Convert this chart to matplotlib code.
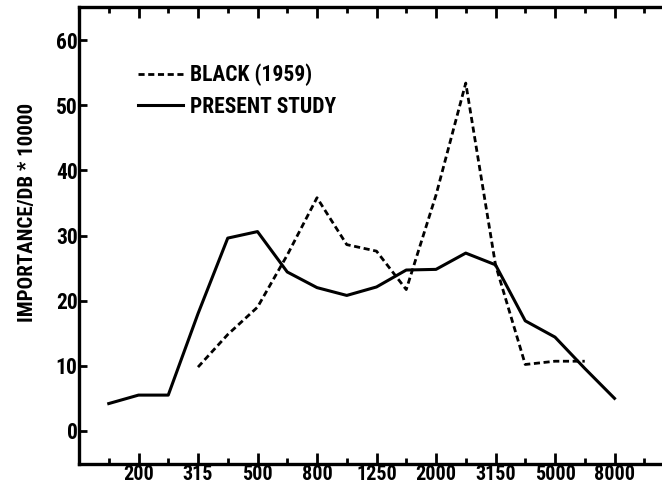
import numpy as np
import matplotlib
matplotlib.use("Agg")
import matplotlib.pyplot as plt
from matplotlib.ticker import FixedLocator, NullFormatter

plt.rcParams['font.family'] = ['Roboto Condensed', 'Liberation Sans Narrow', 'Liberation Sans', 'DejaVu Sans']
plt.rcParams['font.weight'] = 'bold'

# one-third octave band centre frequencies (Hz)
bands = ["125", "160", "200", "250", "315", "400", "500", "630", "800", "1000",
         "1250", "1600", "2000", "2500", "3150", "4000", "5000", "6300", "8000",
         "10000", "12500"]
labelled = ["200", "315", "500", "800", "1250", "2000", "3150", "5000", "8000"]

black_1959 = [np.nan, np.nan, np.nan, np.nan, 9.8, 14.8, 19.0, 27.0, 35.8, 28.6,
              27.6, 21.7, 36.2, 53.4, 25.5, 10.2, 10.7, 10.7, np.nan, np.nan, np.nan]
present_study = [np.nan, 4.2, 5.5, 5.5, 18.0, 29.6, 30.6, 24.4, 22.0, 20.8,
                 22.1, 24.7, 24.8, 27.3, 25.5, 16.9, 14.4, 9.6, 5.0, np.nan, np.nan]

x = np.arange(len(bands))

W, H = 662, 488
fig = plt.figure(figsize=(W / 100, H / 100), dpi=100)
ax = fig.add_axes([79 / W, 24.5 / H, (674 - 79) / W, 456 / H])

ax.plot(x, black_1959, color='black', lw=2.0, ls=(0, (2.2, 1.3)), label='BLACK (1959)')
ax.plot(x, present_study, color='black', lw=2.2, ls='-', label='PRESENT STUDY')

ax.set_xlim(0, 20)
ax.set_ylim(-5, 65)

major_idx = [bands.index(b) for b in labelled]
minor_idx = [i for i in range(1, 20) if i not in major_idx]
ax.xaxis.set_major_locator(FixedLocator(major_idx))
ax.set_xticklabels(labelled)
ax.xaxis.set_minor_locator(FixedLocator(minor_idx))
ax.xaxis.set_minor_formatter(NullFormatter())
ax.set_yticks([0, 10, 20, 30, 40, 50, 60])

ax.tick_params(axis='x', which='major', direction='in', length=8, width=2,
               top=True, labelsize=14.5, pad=1)
ax.tick_params(axis='x', which='minor', direction='in', length=4, width=2, top=True)
ax.tick_params(axis='y', which='major', direction='in', length=6, width=2,
               right=True, labelsize=15.5, pad=1)

for s in ax.spines.values():
    s.set_linewidth(2.4)

ax.set_ylabel('IMPORTANCE/DB * 10000', fontsize=15, fontweight='bold')
ax.yaxis.set_label_coords((37 - 79) / 595, (463.5 - 212) / 456)

lfs = 15.5
lfs_px = lfs * 100 / 72
ax.legend(loc='upper left', bbox_to_anchor=(138 / W, 1 - 64 / H),
          bbox_transform=fig.transFigure, frameon=False, fontsize=lfs,
          handlelength=45 / lfs_px, handletextpad=7 / lfs_px,
          labelspacing=0.42, borderpad=0, borderaxespad=0)

fig.savefig('out.png', dpi=100)
